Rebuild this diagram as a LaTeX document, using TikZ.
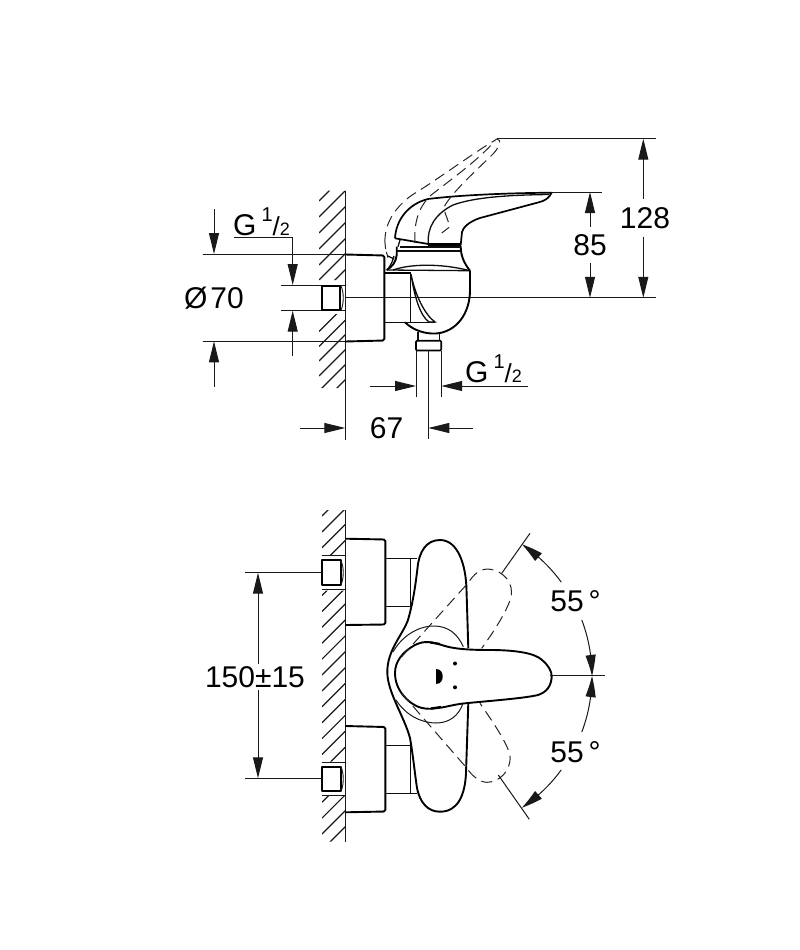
\documentclass[tikz,border=0pt]{standalone}
\usepackage{fontspec}
\setmainfont{Liberation Sans}
\usetikzlibrary{arrows.meta,bending}
\tikzset{
  x=1pt,y=-1pt,
  thinl/.style={line width=0.9pt,black!90},
  dimline/.style={line width=1pt,black!90},
  medl/.style={line width=1.3pt,black!95},
  thick1/.style={line width=1.9pt,black,line join=round},
  dashl/.style={line width=1pt,black!85,dash pattern=on 11pt off 6pt},
  arr/.style={dimline,-{Triangle[length=21pt,width=10pt]}},
  arrb/.style={dimline,-{Triangle[length=21pt,width=10pt,bend]}},
  lbl/.style={inner sep=0pt,font=\fontsize{30}{30}\selectfont,text=black},
}
\newcommand{\halfmark}{\raisebox{14pt}{\fontsize{20}{20}\selectfont 1}{\fontsize{26}{26}\selectfont /}{\fontsize{18}{18}\selectfont 2}}
\begin{document}
\begin{tikzpicture}
\useasboundingbox (0,0) rectangle (800,950);
% ---- hatching, side view
\begin{scope}
\clip (319,190.7) rectangle (345,280) (319,314) rectangle (345,388);
\foreach \y in {201,217,233,249,265,280,296}
  \draw[thinl,line width=1.2pt] (319,\y) -- ++(30,-30);
\foreach \y in {331.5,346.5,361,376,391,406,421}
  \draw[thinl,line width=1.2pt] (319,\y) -- ++(30,-30);
\end{scope}
\draw[dimline,line width=1.2pt] (345.3,190.7) -- (345.3,440);
% ---- side view: mounting
\draw[thick1,rounded corners=1.5pt] (345.3,254.5) -- (384.3,255.5) -- (384.3,340.5) -- (345.3,341.5);
\draw[dimline] (319,285) -- (345,285) (319,310.7) -- (345,310.7);
\draw[thick1] (321.7,286) rectangle (340,310);
\draw[thinl] (341,286) .. controls (344,292) and (344,304) .. (341,310);
% dims left
\draw[dimline] (202.7,254) -- (345,254) (202.7,341.3) -- (345,341.3);
\draw[arr] (214,209) -- (214,254);
\draw[arr] (214,386.7) -- (214,341.3);
\draw[dimline] (280.7,285) -- (319,285) (280.7,310.7) -- (319,310.7);
\draw[dimline] (234,237.7) -- (292.7,237.7);
\draw[arr] (292.7,237.7) -- (292.7,285);
\draw[arr] (292.7,356) -- (292.7,310.7);
% centre line
\draw[dimline] (345,297.8) -- (656,297.8);
% ---- neck and body
\draw[thick1] (384.5,272.8) -- (410.7,272.8);
\draw[medl,line width=1.5pt] (384.5,322.3) -- (405,322.3);
\draw[medl,line width=1.5pt] (410.7,272.8) -- (410.7,322.3);
\draw[thick1] (405,322.3) .. controls (414,331) and (426,334) .. (436,333.5)
  .. controls (456,332) and (470,314) .. (470,290) -- (470,270.7);
\draw[medl] (386.7,270) -- (470,270.7);
\draw[medl] (393,270) .. controls (410,264) and (440,263) .. (470,270.7);
\draw[thick1] (386.7,270) .. controls (392,267) and (396,262) .. (396.7,255) -- (396.7,246.7);
\draw[thick1] (460.7,246) .. controls (460.7,256) and (464,263) .. (470,270.7);
\draw[medl] (396.7,251) -- (460.7,251);
\draw[line width=3pt] (428,244.7) -- (460.7,244.7);
\draw[medl] (400,247) -- (460.7,247);
% inner blade
\draw[medl] (411,274) .. controls (415,295) and (425,315) .. (435,322) -- (429,322)
   .. controls (420,316) and (414,295) .. (411,274);
\draw[medl] (405,322.3) -- (435,322.3);
% ---- handle solid
\draw[thick1,line width=1.7pt] (395,238.3) .. controls (396,220) and (408,204) .. (428,199)
   .. controls (460,195) and (510,193) .. (551.7,192.7)
   .. controls (549,198) and (545,201) .. (538,202.5) -- (480,218)
   .. controls (468,222) and (463,228) .. (462,232) -- (460.7,245);
\draw[thick1,line width=1.7pt] (395,238.3) -- (428.3,244) ;
\draw[medl] (400,240) -- (398,246.7);
\draw[medl] (428.3,243.3) .. controls (427,228) and (435,214) .. (453,205)
   .. controls (475,197) and (510,195) .. (549,194.5);
% ---- dashed raised handle
\draw[dashl] (385,243) .. controls (384,225) and (394,208) .. (412,195)
   .. controls (440,178) and (470,155) .. (497,139)
   .. controls (502,139) and (500,148) .. (490,157)
   .. controls (470,176) and (450,195) .. (443.5,208)
   -- (450,226.7) -- (441.7,233);
\draw[dashl] (415,243) .. controls (414,228) and (416,210) .. (430,196)
   .. controls (450,180) and (475,163) .. (495,141);
\draw[dashl,dash pattern=on 6pt off 3pt] (385,243) .. controls (385,250) and (388,256) .. (388,258);
\draw[medl] (388,256) -- (394,259) (388,269) .. controls (392,263) and (393,260) .. (394,256);
% ---- connector
\draw[medl,line width=1.5pt] (418,332) -- (418,340.7) (439.5,332) -- (439.5,340.7);
\draw[thick1,line width=1.7pt,rounded corners=1pt] (416,340.7) rectangle (441.2,350.5);
\draw[dimline] (416,350.5) -- (416,397) (441.2,350.5) -- (441.2,397) (428.3,350.5) -- (428.3,439);
\draw[arr] (370,386) -- (416,386);
\draw[arr] (528,386) -- (441.2,386);
\draw[arr] (300,428) -- (345.3,428);
\draw[arr] (473,428) -- (428.3,428);
% dims right
\draw[dimline] (497,138.7) -- (656,138.7);
\draw[dimline] (551,192) -- (601.7,192);
\draw[arr] (643.3,199) -- (643.3,138.7);
\draw[arr] (643.3,236.7) -- (643.3,297.8);
\draw[arr] (590,226.7) -- (590,192);
\draw[arr] (590,263) -- (590,297.8);
% ---- labels, side view
\node[lbl] (t128) at (645,218) {128};
\node[lbl] (t85) at (590,245.5) {85};
\node[lbl] (t67) at (386.5,428) {67};
\node[lbl] (tphi) at (214,298) {Ø\hspace{3pt}70};
\node[lbl,anchor=base west] (tg1) at (233,235) {G\hspace{5pt}\halfmark};
\node[lbl,anchor=base west] (tg2) at (465,382.3) {G\hspace{5pt}\halfmark};
% ---- front view hatching
\begin{scope}
\clip (322,510) rectangle (345,555) (322,590.7) rectangle (345,761.7) (322,795) rectangle (345,841.7);
\foreach \k in {0,...,21}
  \draw[thinl,line width=1.2pt] (322,516+\k*15.9) -- ++(26,-26);
\end{scope}
\draw[dimline,line width=1.2pt] (345.3,510) -- (345.3,841.7);
% nuts
\draw[dimline] (322,555) -- (345,555) (322,589) -- (345,589) (322,762) -- (345,762) (322,795) -- (345,795);
\draw[thick1] (322,560) rectangle (340.7,585);
\draw[thick1] (322,766.7) rectangle (340.7,791);
\draw[thinl] (341,561) .. controls (344,567) and (344,578) .. (341,585);
\draw[thinl] (341,767) .. controls (344,773) and (344,785) .. (341,791);
% cylinders
\draw[thick1,rounded corners=1.5pt] (345.3,538.7) -- (385.3,539.5) -- (385.3,624.5) -- (345.3,625);
\draw[thick1,rounded corners=1.5pt] (345.3,726) -- (385.3,727) -- (385.3,811.5) -- (345.3,812.3);
% necks
\draw[medl,line width=1.4pt] (385.3,558.3) -- (417,558.3) (385.3,606.7) -- (412,606.7) (410.7,558.3) -- (410.7,606.7);
\draw[medl,line width=1.4pt] (385.3,745.7) -- (412,745.7) (385.3,793.3) -- (417,793.3) (410.7,745.7) -- (410.7,793.3);
% dims
\draw[dimline] (245,572.7) -- (322,572.7) (245,778.3) -- (322,778.3);
\draw[arr] (258,664) -- (258,572.7);
\draw[arr] (258,690) -- (258,778.3);
% plate
\draw[thick1] (468.3,648) -- (466.5,590) .. controls (466,565) and (458,540) .. (440,540)
  .. controls (426,540) and (419,552) .. (417.5,568)
  .. controls (415,590) and (412,606) .. (408,620)
  .. controls (402,636) and (387.3,650) .. (387.3,672)
  .. controls (387.3,692) and (404,716) .. (410,738)
  .. controls (413,755) and (415,775) .. (417,788)
  .. controls (420,803) and (428,811.7) .. (440,811.7)
  .. controls (458,811.7) and (465,795) .. (466,773) -- (468.3,703);
% rosette
\draw[thinl,line width=1pt] (393,652) .. controls (402,636) and (418,626) .. (434,626)
  .. controls (448,626) and (458,634) .. (463.3,647);
\draw[thinl,line width=1pt] (396,700) .. controls (405,714) and (420,723) .. (436,723)
  .. controls (450,723) and (459,715) .. (463,703.3);
% lever
\draw[thick1] (490,650) .. controls (515,650) and (535,653) .. (542,660)
  .. controls (548,665) and (552,671) .. (551.7,677)
  .. controls (551,686) and (547,692) .. (538,695)
  .. controls (525,698) and (500,700) .. (468,703)
  .. controls (455,704) and (447,707) .. (438,708)
  .. controls (425,710) and (418,708) .. (410,702)
  .. controls (400,694) and (395,684) .. (395,673)
  .. controls (395,662) and (402,652) .. (415,645)
  .. controls (425,640) and (432,642) .. (445,646)
  .. controls (455,649) and (470,650) .. (490,650);
\draw[line width=2.2pt] (430,642.4) -- (440,644);
\draw[line width=2.2pt] (431,708.5) -- (441,707);
\fill[black] (436,669) .. controls (441,669) and (442.7,673) .. (442.7,676.5)
  .. controls (442.7,680) and (441,684) .. (436,684) -- cycle;
\fill[black] (455,663.5) circle (2);
\fill[black] (455,687.3) circle (2);
% dashed lever positions
\draw[dashl] (401.7,656.7) -- (468,583) .. controls (474,574) and (480,569) .. (487,569)
  .. controls (498,569) and (512,578) .. (511.5,593)
  .. controls (511,605) and (495,630) .. (481.7,648.3);
\draw[dashl] (401.7,693.3) -- (466.7,768) .. controls (472,776) and (480,782.3) .. (487,782.3)
  .. controls (498,782.3) and (511,772) .. (510,756.7)
  .. controls (509,746) and (495,725) .. (480,703.3);
% angle leaders
\draw[dimline] (501.7,573.3) -- (530,533.3);
\draw[dimline] (498.3,775) -- (529.3,819.3);
\draw[dimline] (550,675.8) -- (605,675.8);
\draw[arrb] (433+159*0.807,676-159*0.59) arc[start angle=-36.2,end angle=-56,radius=159];
\draw[arrb] (433+159*0.936,676-159*0.352) arc[start angle=-20.6,end angle=0,radius=159];
\draw[arrb] (433+159*0.936,676+159*0.352) arc[start angle=20.6,end angle=0,radius=159];
\draw[arrb] (433+159*0.807,676+159*0.59) arc[start angle=36.2,end angle=56,radius=159];
% labels
\node[lbl] (t55a) at (575.5,601) {55\hspace{5pt}°};
\node[lbl] (t55b) at (575.5,752) {55\hspace{5pt}°};
\node[lbl] (t150) at (255,677) {150±15};
\end{tikzpicture}
\end{document}
